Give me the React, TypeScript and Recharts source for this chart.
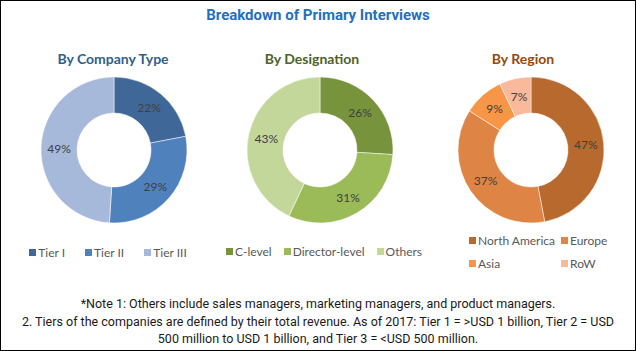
import React from "react";
import { PieChart, Pie, Cell, Legend } from "recharts";

// values (percent shares)
const companyTypes = ["Tier I", "Tier II", "Tier III"];
const companyShares = [22, 29, 49];
const companyColors = ["#3F6899", "#4F81BD", "#A7B9DA"];

const designations = ["C-level", "Director-level", "Others"];
const designationShares = [26, 31, 43];
const designationColors = ["#77933C", "#9BBB59", "#C4D79B"];

const regions = ["North America", "Europe", "Asia", "RoW"];
const regionShares = [47, 37, 9, 7];
const regionColors = ["#B8692E", "#DE8444", "#F79646", "#F9B99A"];

const BODY_FONT = "Lato, 'Open Sans', sans-serif";
const NARROW_FONT = "'Liberation Sans Narrow', 'Arial Narrow', Roboto, sans-serif";

const RADIAN = Math.PI / 180;

const renderLabel = (props: any) => {
  const { cx, cy, midAngle, innerRadius, outerRadius, value } = props;
  const r = (innerRadius + outerRadius) / 2;
  const x = cx + r * Math.cos(-midAngle * RADIAN);
  const y = cy + r * Math.sin(-midAngle * RADIAN);
  return (
    <text
      x={x}
      y={y}
      fill="#404040"
      fontSize={12}
      fontFamily={BODY_FONT}
      textAnchor="middle"
      dominantBaseline="central"
    >
      {`${value}%`}
    </text>
  );
};

const LegendItem = ({ name, color }: { name: string; color: string }) => (
  <span style={{ display: "inline-flex", alignItems: "center", whiteSpace: "nowrap" }}>
    <span style={{ width: 7, height: 7, background: color, marginRight: 2, display: "inline-block" }} />
    <span>{name}</span>
  </span>
);

const rowLegend = (names: string[], colors: string[], gap: number) => () => (
  <div
    style={{
      display: "flex",
      justifyContent: "center",
      gap,
      fontFamily: BODY_FONT,
      fontSize: 12,
      color: "#595959",
    }}
  >
    {names.map((n, i) => (
      <LegendItem key={n} name={n} color={colors[i]} />
    ))}
  </div>
);

const gridLegend = (names: string[], colors: string[]) => () => (
  <div
    style={{
      display: "grid",
      gridTemplateColumns: "92px 60px",
      rowGap: 8,
      fontFamily: BODY_FONT,
      fontSize: 12,
      color: "#595959",
    }}
  >
    {names.map((n, i) => (
      <LegendItem key={n} name={n} color={colors[i]} />
    ))}
  </div>
);

const makeData = (names: string[], values: number[]) =>
  names.map((name, i) => ({ name, value: values[i] }));

interface DonutProps {
  left: number;
  title: string;
  titleColor: string;
  titleX: number;
  names: string[];
  values: number[];
  colors: string[];
  legend: () => React.ReactElement;
  legendStyle: React.CSSProperties;
}

const Donut = ({ left, title, titleColor, titleX, names, values, colors, legend, legendStyle }: DonutProps) => (
  <>
    <div
      style={{
        position: "absolute",
        left: titleX - 100,
        width: 200,
        top: 49,
        textAlign: "center",
        fontFamily: BODY_FONT,
        fontWeight: 700,
        fontSize: 14,
        color: titleColor,
      }}
    >
      {title}
    </div>
    <div style={{ position: "absolute", left, top: 70 }}>
      <PieChart width={200} height={210} margin={{ top: 0, right: 0, bottom: 0, left: 0 }}>
        <Pie
          data={makeData(names, values)}
          dataKey="value"
          nameKey="name"
          cx={100}
          cy={79}
          innerRadius={37}
          outerRadius={73}
          startAngle={90}
          endAngle={-270}
          stroke="#ffffff"
          strokeWidth={0.5}
          label={renderLabel}
          labelLine={false}
          isAnimationActive={false}
        >
          {names.map((n, i) => (
            <Cell key={n} fill={colors[i]} />
          ))}
        </Pie>
        <Legend content={legend} wrapperStyle={{ position: "absolute", ...legendStyle }} />
      </PieChart>
    </div>
  </>
);

export default function App() {
  return (
    <div
      style={{
        position: "absolute",
        left: 0,
        top: 0,
        width: 636,
        height: 351,
        boxSizing: "border-box",
        border: "1px solid #000",
        background: "#fff",
        overflow: "hidden",
      }}
    >
      <div
        style={{
          position: "absolute",
          top: 5,
          width: "100%",
          textAlign: "center",
          fontFamily: NARROW_FONT,
          fontWeight: 700,
          fontSize: 15,
          color: "#1F70BF",
        }}
      >
        Breakdown of Primary Interviews
      </div>

      <Donut
        left={13}
        title="By Company Type"
        titleColor="#2F5F8C"
        titleX={112}
        names={companyTypes}
        values={companyShares}
        colors={companyColors}
        legend={rowLegend(companyTypes, companyColors, 20)}
        legendStyle={{ top: 174, left: -6, width: 200 }}
      />
      <Donut
        left={219}
        title="By Designation"
        titleColor="#4F6228"
        titleX={311}
        names={designations}
        values={designationShares}
        colors={designationColors}
        legend={rowLegend(designations, designationColors, 12)}
        legendStyle={{ top: 173, left: 4, width: 200 }}
      />
      <Donut
        left={430}
        title="By Region"
        titleColor="#984807"
        titleX={522}
        names={regions}
        values={regionShares}
        colors={regionColors}
        legend={gridLegend(regions, regionColors)}
        legendStyle={{ top: 162, left: 38, width: 160 }}
      />

      <div
        style={{
          position: "absolute",
          top: 294,
          width: "100%",
          textAlign: "center",
          fontFamily: NARROW_FONT,
          fontSize: 12.5,
          lineHeight: "17.5px",
          color: "#1a1a1a",
        }}
      >
        *Note 1: Others include sales managers, marketing managers, and product managers.
        <br />
        2. Tiers of the companies are defined by their total revenue. As of 2017: Tier 1 = &gt;USD 1 billion, Tier 2 = USD
        <br />
        500 million to USD 1 billion, and Tier 3 = &lt;USD 500 million.
      </div>
    </div>
  );
}
